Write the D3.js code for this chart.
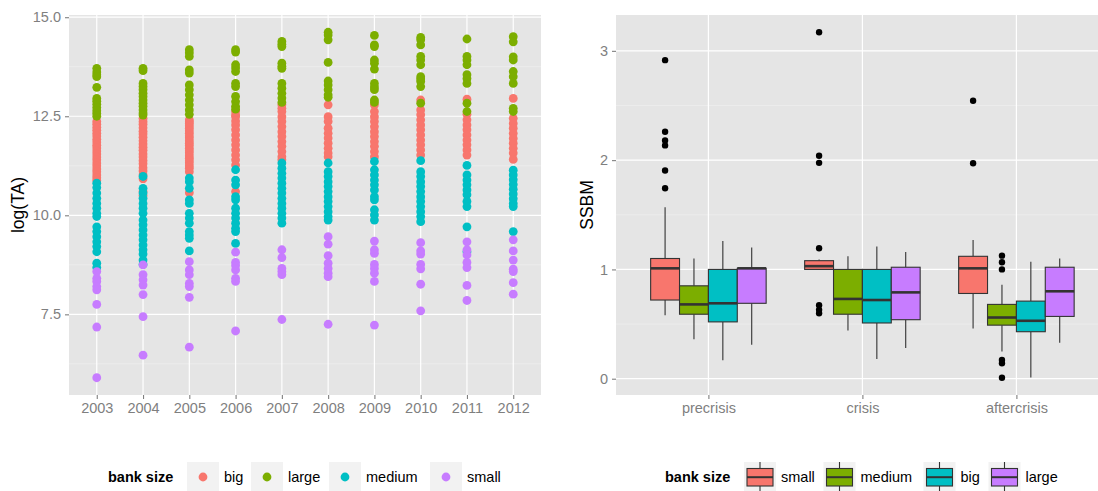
<!DOCTYPE html>
<html><head><meta charset="utf-8">
<script src="https://cdn.jsdelivr.net/npm/d3@7"></script>
<style>body{margin:0;background:#fff}svg{display:block;font-family:Arial,"Liberation Sans",sans-serif}</style>
</head><body><svg id="c" width="1098" height="491"></svg>
<script>
// ---------- Left panel data: log(TA) by year and bank size ----------
const years = [2003,2004,2005,2006,2007,2008,2009,2010,2011,2012];
const scatterGroups = ["big","large","medium","small"];
const taBig = [
 [12.37,12.3,12.22,12.15,12.07,12.0,11.92,11.85,11.77,11.7,11.62,11.55,11.47,11.4,11.32,11.25,11.17,11.1,11.02,10.95,10.88],
 [12.45,12.37,12.3,12.21,12.12,12.05,11.97,11.88,11.8,11.72,11.64,11.55,11.47,11.38,11.3,11.2,11.12,11.02,10.92,10.6,10.5],
 [12.41,12.36,12.32,12.26,12.2,12.13,12.07,12.0,11.95,11.88,11.82,11.76,11.69,11.63,11.57,11.5,11.44,11.38,11.32,11.25,11.19,11.1,10.57],
 [12.62,12.53,12.49,12.38,12.28,12.16,12.03,11.9,11.78,11.65,11.52,11.4,11.27,10.6],
 [12.79,12.7,12.62,12.49,12.37,12.24,12.11,11.99,11.86,11.74,11.61,11.48,11.4],
 [12.79,12.49,12.37,12.2,12.07,11.95,11.82,11.69,11.57,11.48],
 [12.79,12.62,12.49,12.37,12.24,12.11,11.99,11.86,11.74,11.61,11.48],
 [12.91,12.66,12.54,12.41,12.28,12.16,12.03,11.9,11.78,11.65,11.52],
 [12.93,12.55,12.41,12.28,12.16,12.03,11.9,11.78,11.65,11.52],
 [12.95,12.45,12.32,12.2,12.07,11.94,11.82,11.69,11.57,11.41]
];
const taLarge = [
 [13.71,13.62,13.55,13.5,13.23,12.95,12.88,12.8,12.72,12.64,12.57,12.5],
 [13.71,13.65,13.33,13.25,13.17,13.08,13.0,12.91,12.83,12.75,12.66,12.58,12.53],
 [14.18,14.1,14.01,13.67,13.59,13.29,13.17,13.04,12.91,12.79,12.66,12.55],
 [14.18,14.12,13.8,13.72,13.63,13.33,13.25,13.0,12.87,12.75,12.68],
 [14.39,14.32,14.26,13.84,13.76,13.71,13.33,13.21,13.08,12.96,12.85],
 [14.62,14.55,14.43,13.86,13.39,13.29,13.17,13.04,12.98],
 [14.54,14.3,14.26,13.92,13.84,13.69,13.33,13.24,13.17,12.91,12.85],
 [14.49,14.43,14.3,14.01,13.92,13.8,13.5,13.44,13.38,13.25,12.83],
 [14.45,14.01,13.92,13.8,13.55,13.45,13.33,12.83,12.62],
 [14.51,14.38,14.0,13.92,13.63,13.5,13.33,12.7,12.62]
];
const taMedium = [
 [10.81,10.7,10.56,10.43,10.3,10.18,10.05,9.97,9.71,9.59,9.46,9.33,9.21,9.08,8.79,8.68],
 [10.98,10.68,10.56,10.43,10.3,10.18,10.05,9.88,9.76,9.63,9.5,9.38,9.25,9.13,9.02,8.87,8.76],
 [10.94,10.85,10.68,10.39,10.3,10.05,9.93,9.8,9.59,9.5,9.42,9.1],
 [11.15,10.89,10.77,10.47,10.39,10.18,10.05,9.93,9.8,9.67,9.59,9.29],
 [11.32,11.19,11.06,10.94,10.81,10.68,10.56,10.43,10.3,10.18,10.05,9.93,9.8],
 [11.32,11.1,10.98,10.85,10.73,10.6,10.47,10.35,10.22,10.09,9.97,9.88],
 [11.36,11.15,11.02,10.89,10.77,10.64,10.47,10.39,10.14,10.01,9.88],
 [11.38,11.1,10.98,10.85,10.73,10.6,10.47,10.35,10.22,10.09,9.97,9.84],
 [11.26,11.02,10.89,10.77,10.64,10.52,10.35,10.22,9.71,9.08],
 [11.14,11.02,10.9,10.78,10.66,10.54,10.42,10.3,10.22,9.59]
];
const taSmall = [
 [8.58,8.41,8.33,8.2,8.12,7.75,7.18,5.9],
 [8.75,8.5,8.37,8.24,8.0,7.44,6.47],
 [8.83,8.62,8.5,8.28,8.2,7.93,6.67],
 [9.07,8.81,8.73,8.62,8.41,8.33,7.08],
 [9.13,8.93,8.66,8.58,8.5,7.37],
 [9.46,9.27,8.98,8.79,8.66,8.54,8.45,7.25],
 [9.35,9.13,9.04,8.76,8.66,8.54,8.33,7.23],
 [9.31,9.1,9.02,8.76,8.65,8.26,7.59],
 [9.33,9.13,9.0,8.81,8.68,8.23,7.85],
 [9.38,9.1,8.87,8.64,8.58,8.3,8.01]
];
const leftYTicks = [7.5,10.0,12.5,15.0];
const leftYMinor = [6.25,8.75,11.25,13.75];

// ---------- Right panel data: SSBM boxplot stats by period and bank size ----------
const periods = ["precrisis","crisis","aftercrisis"];
const boxGroups = ["small","medium","big","large"];
// rows: period; cols: small, medium, big, large
const whiskerLow  = [[0.58,0.36,0.17,0.31],[1.0,0.44,0.18,0.28],[0.46,0.25,0.01,0.33]];
const q1          = [[0.72,0.59,0.52,0.69],[1.0,0.59,0.51,0.54],[0.78,0.49,0.43,0.57]];
const median      = [[1.01,0.68,0.69,1.01],[1.03,0.73,0.72,0.79],[1.01,0.56,0.53,0.80]];
const q3          = [[1.10,0.85,1.0,1.01],[1.08,1.0,1.0,1.02],[1.12,0.68,0.71,1.02]];
const whiskerHigh = [[1.57,1.10,1.26,1.20],[1.09,1.12,1.21,1.16],[1.27,0.86,1.07,1.10]];
const outliers = [
 [[2.915,2.26,2.18,2.135,1.905,1.743],[],[],[]],
 [[3.17,2.04,1.975,1.194,0.672,0.63,0.599],[],[],[]],
 [[2.543,1.972],[1.126,1.066,1.0,0.171,0.141,0.009],[],[]]
];
const rightYTicks = [0,1,2,3];
const rightYMinor = [0.5,1.5,2.5];

const hue = ["#F8766D","#7CAE00","#00BFC4","#C77CFF"];

const svg = d3.select("#c");
const tickCol = "#7F7F7F";

function expand(lo, hi){ const r = hi-lo; return [lo-0.05*r, hi+0.05*r]; }

// ===== Left panel =====
const L = {x0:69, x1:541, y0:15, y1:395};
const allTA = [taBig,taLarge,taMedium,taSmall].flat(2);
const yL = d3.scaleLinear().domain(expand(d3.min(allTA), d3.max(allTA))).range([L.y1, L.y0]);
const xL = d3.scalePoint().domain(years).range([L.x0, L.x1]).padding(0.6);

const gL = svg.append("g");
gL.append("rect").attr("x",L.x0).attr("y",L.y0).attr("width",L.x1-L.x0).attr("height",L.y1-L.y0).attr("fill","#E5E5E5");
gL.selectAll(".mn").data(leftYMinor).join("line").attr("x1",L.x0).attr("x2",L.x1)
  .attr("y1",d=>yL(d)).attr("y2",d=>yL(d)).attr("stroke","#F2F2F2").attr("stroke-width",0.6);
gL.selectAll(".mj").data(leftYTicks).join("line").attr("x1",L.x0).attr("x2",L.x1)
  .attr("y1",d=>yL(d)).attr("y2",d=>yL(d)).attr("stroke","#fff").attr("stroke-width",1.2);
gL.selectAll(".vx").data(years).join("line").attr("y1",L.y0).attr("y2",L.y1)
  .attr("x1",d=>xL(d)).attr("x2",d=>xL(d)).attr("stroke","#fff").attr("stroke-width",1.2);

[taBig,taLarge,taMedium,taSmall].forEach((arr,gi)=>{
  const pts = [];
  arr.forEach((vals,yi)=>vals.forEach(v=>pts.push({year:years[yi], v})));
  gL.append("g").selectAll("circle").data(pts).join("circle")
    .attr("cx",d=>xL(d.year)).attr("cy",d=>yL(d.v)).attr("r",4.4).attr("fill",hue[gi]);
});

// axes
const axL = svg.append("g").attr("transform",`translate(${L.x0},0)`)
  .call(d3.axisLeft(yL).tickValues(leftYTicks).tickFormat(d3.format(".1f")).tickSize(4).tickPadding(4));
const axLB = svg.append("g").attr("transform",`translate(0,${L.y1})`)
  .call(d3.axisBottom(xL).tickSize(4).tickPadding(4).tickFormat(d=>String(d)));
[axL,axLB].forEach(a=>{
  a.select(".domain").remove();
  a.selectAll("line").attr("stroke",tickCol).attr("stroke-width",1.1);
  a.selectAll("text").attr("fill",tickCol).style("font-size","14.5px").style("font-family","Arial,'Liberation Sans',sans-serif");
});
svg.append("text").attr("transform",`translate(24,${(L.y0+L.y1)/2}) rotate(-90)`)
  .attr("text-anchor","middle").style("font-size","17.5px").attr("fill","#000").text("log(TA)");

// ===== Right panel =====
const R = {x0:616, y0:15, y1:395};
const xR = d3.scalePoint().domain(periods).range([R.x0, R.x0 + 154*(periods.length-1+1.2)]).padding(0.6);
const allSS = [whiskerLow, whiskerHigh, outliers].flat(3);
const yR = d3.scaleLinear().domain(expand(d3.min(allSS), d3.max(allSS))).range([R.y1, R.y0]);
const R_x1 = R.x0 + 154*(periods.length+0.2);

const gR = svg.append("g");
gR.append("rect").attr("x",R.x0).attr("y",R.y0).attr("width",R_x1-R.x0).attr("height",R.y1-R.y0).attr("fill","#E5E5E5");
gR.selectAll(".mn").data(rightYMinor).join("line").attr("x1",R.x0).attr("x2",R_x1)
  .attr("y1",d=>yR(d)).attr("y2",d=>yR(d)).attr("stroke","#F2F2F2").attr("stroke-width",0.6);
gR.selectAll(".mj").data(rightYTicks).join("line").attr("x1",R.x0).attr("x2",R_x1)
  .attr("y1",d=>yR(d)).attr("y2",d=>yR(d)).attr("stroke","#fff").attr("stroke-width",1.2);
gR.selectAll(".vx").data(periods).join("line").attr("y1",R.y0).attr("y2",R.y1)
  .attr("x1",d=>xR(d)).attr("x2",d=>xR(d)).attr("stroke","#fff").attr("stroke-width",1.2);

const step = xR.step();
const dodge = 0.75*step, bw = dodge/boxGroups.length;
const boxes = [];
periods.forEach((p,pi)=>boxGroups.forEach((g,gi)=>{
  boxes.push({p,pi,g,gi, lo:whiskerLow[pi][gi], q1:q1[pi][gi], med:median[pi][gi], q3:q3[pi][gi], hi:whiskerHigh[pi][gi], out:outliers[pi][gi],
    cx: xR(p) - dodge/2 + bw*(gi+0.5)});
}));
const bx = gR.append("g").selectAll("g").data(boxes).join("g");
const stroke = "#333333";
bx.append("line").attr("x1",d=>d.cx).attr("x2",d=>d.cx).attr("y1",d=>yR(d.q3)).attr("y2",d=>yR(d.hi)).attr("stroke",stroke).attr("stroke-width",1.1);
bx.append("line").attr("x1",d=>d.cx).attr("x2",d=>d.cx).attr("y1",d=>yR(d.q1)).attr("y2",d=>yR(d.lo)).attr("stroke",stroke).attr("stroke-width",1.1);
bx.append("rect").attr("x",d=>d.cx-bw/2).attr("width",bw).attr("y",d=>yR(d.q3)).attr("height",d=>Math.max(0,yR(d.q1)-yR(d.q3)))
  .attr("fill",d=>hue[d.gi]).attr("stroke",stroke).attr("stroke-width",1.1);
bx.append("line").attr("x1",d=>d.cx-bw/2).attr("x2",d=>d.cx+bw/2).attr("y1",d=>yR(d.med)).attr("y2",d=>yR(d.med)).attr("stroke",stroke).attr("stroke-width",2.6);
bx.selectAll("circle").data(d=>d.out.map(v=>({cx:d.cx,v}))).join("circle")
  .attr("cx",d=>d.cx).attr("cy",d=>yR(d.v)).attr("r",3.2).attr("fill","#000");

const axR = svg.append("g").attr("transform",`translate(${R.x0},0)`)
  .call(d3.axisLeft(yR).tickValues(rightYTicks).tickFormat(d3.format("d")).tickSize(4).tickPadding(4));
const axRB = svg.append("g").attr("transform",`translate(0,${R.y1})`)
  .call(d3.axisBottom(xR).tickSize(4).tickPadding(4));
[axR,axRB].forEach(a=>{
  a.select(".domain").remove();
  a.selectAll("line").attr("stroke",tickCol).attr("stroke-width",1.1);
  a.selectAll("text").attr("fill",tickCol).style("font-size","14.5px").style("font-family","Arial,'Liberation Sans',sans-serif");
});
svg.append("text").attr("transform",`translate(593,${(R.y0+R.y1)/2}) rotate(-90)`)
  .attr("text-anchor","middle").style("font-size","17.5px").attr("fill","#000").text("SSBM");

// ===== Legends =====
function legendBase(x, y){
  svg.append("text").attr("x",x).attr("y",y).style("font-size","14.5px").style("font-weight","bold").attr("fill","#000").text("bank size");
}
const legY = 482;
legendBase(108, legY);
const leftKeyX = [187, 251, 329, 430];
scatterGroups.forEach((g,i)=>{
  const kx = leftKeyX[i];
  svg.append("rect").attr("x",kx).attr("y",462).attr("width",32).attr("height",30).attr("fill","#F2F2F2");
  svg.append("circle").attr("cx",kx+16).attr("cy",477).attr("r",4.4).attr("fill",hue[i]);
  svg.append("text").attr("x",kx+37).attr("y",legY).style("font-size","14.5px").attr("fill","#000").text(g);
});
legendBase(665, legY);
const rightKeyX = [744, 823.5, 923.5, 988.5];
boxGroups.forEach((g,i)=>{
  const kx = rightKeyX[i];
  svg.append("rect").attr("x",kx).attr("y",462).attr("width",32).attr("height",30).attr("fill","#F2F2F2");
  svg.append("line").attr("x1",kx+16).attr("x2",kx+16).attr("y1",462).attr("y2",491).attr("stroke",stroke).attr("stroke-width",1.1);
  svg.append("rect").attr("x",kx+3).attr("y",468.5).attr("width",26).attr("height",17.5).attr("fill",hue[i]).attr("stroke",stroke).attr("stroke-width",1.1);
  svg.append("line").attr("x1",kx+3).attr("x2",kx+29).attr("y1",477.2).attr("y2",477.2).attr("stroke",stroke).attr("stroke-width",2);
  svg.append("text").attr("x",kx+37).attr("y",legY).style("font-size","14.5px").attr("fill","#000").text(g);
});
</script></body></html>
